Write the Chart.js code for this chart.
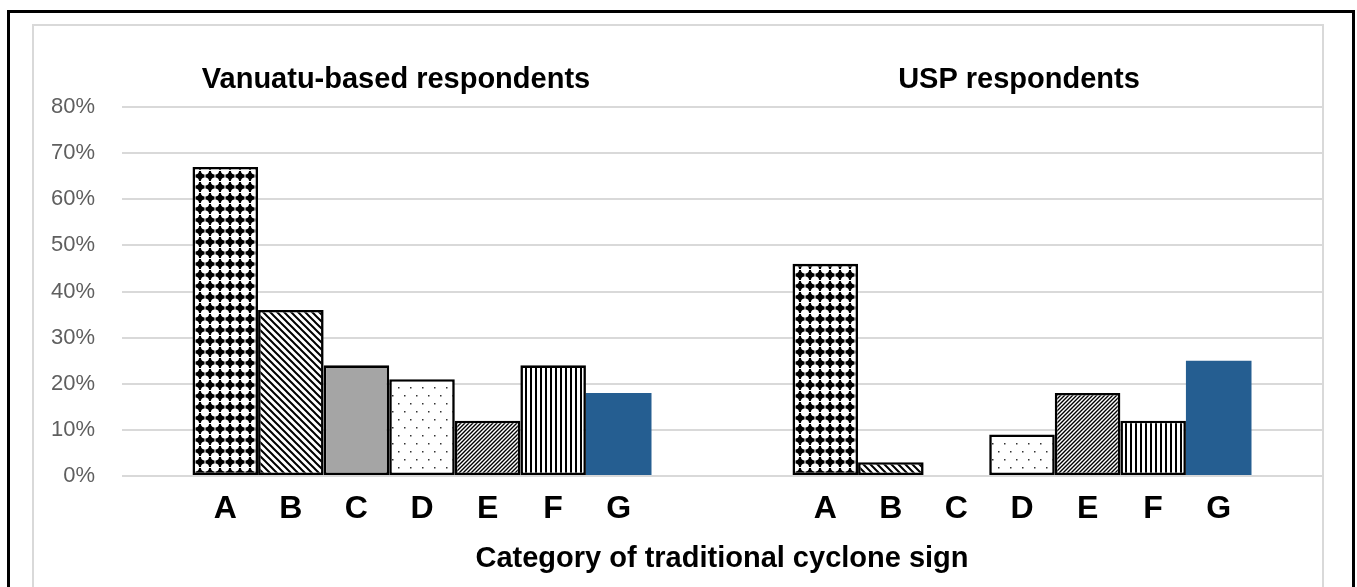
<!DOCTYPE html>
<html>
<head>
<meta charset="utf-8">
<script src="https://cdn.jsdelivr.net/npm/chart.js@4"></script>
<style>
  html, body { margin: 0; padding: 0; background: #fff; }
  #wrap { position: relative; width: 1357px; height: 587px; }
</style>
</head>
<body>
<div id="wrap"><canvas id="chart"></canvas></div>
<script>
const groups = ['Vanuatu-based respondents', 'USP respondents'];
const signs = ['A', 'B', 'C', 'D', 'E', 'F', 'G'];
// percent of respondents, one array per sign: [Vanuatu, USP]
const signA = [67, 46];
const signB = [36, 3];
const signC = [24, 0];
const signD = [21, 9];
const signE = [12, 18];
const signF = [24, 12];
const signG = [18, 25];
const yTicks = [0, 10, 20, 30, 40, 50, 60, 70, 80];

const FONT = "'Liberation Sans', Arial, sans-serif";

function makePattern(w, h, draw) {
  const c = document.createElement('canvas');
  c.width = w; c.height = h;
  const g = c.getContext('2d');
  g.fillStyle = '#fff';
  g.fillRect(0, 0, w, h);
  draw(g, w, h);
  return g.createPattern(c, 'repeat');
}

// A: black diamonds between white round holes
const patA = makePattern(10, 11, (g, w, h) => {
  g.fillStyle = '#000';
  g.fillRect(0, 0, w, h);
  g.fillStyle = '#fff';
  g.beginPath();
  g.arc(w / 2, h / 2, 4.1, 0, Math.PI * 2);
  g.fill();
  g.fillRect(w / 2 - 0.5, 0, 1, h);
  g.fillRect(0, h / 2 - 0.5, w, 1);
});
// B: wide backward diagonal
const patB = makePattern(7, 7, (g, w, h) => {
  g.strokeStyle = '#000';
  g.lineWidth = 2;
  g.beginPath();
  g.moveTo(-1, -1); g.lineTo(w + 1, h + 1);
  g.moveTo(w - 1, -1); g.lineTo(w + 1, 1);
  g.moveTo(-1, h - 1); g.lineTo(1, h + 1);
  g.stroke();
});
// D: sparse dots
const patD = makePattern(12, 16, (g) => {
  g.fillStyle = '#333';
  g.fillRect(2, 3, 1.5, 1.5);
  g.fillRect(8, 11, 1.5, 1.5);
});
// E: dense forward diagonal
const patE = makePattern(4, 4, (g, w, h) => {
  g.strokeStyle = '#000';
  g.lineWidth = 1.4;
  g.beginPath();
  g.moveTo(-1, h + 1); g.lineTo(w + 1, -1);
  g.moveTo(-1, 1); g.lineTo(1, -1);
  g.moveTo(w - 1, h + 1); g.lineTo(w + 1, h - 1);
  g.stroke();
});
// F: vertical stripes
const patF = makePattern(5, 1, (g) => {
  g.fillStyle = '#000';
  g.fillRect(0, 0, 2, 1);
});

const values = [signA, signB, signC, signD, signE, signF, signG];
const fills = [patA, patB, '#a5a5a5', patD, patE, patF, '#255e91'];
const borders = ['#000', '#000', '#000', '#000', '#000', '#000', '#255e91'];

const datasets = signs.map((s, i) => ({
  label: s,
  data: values[i],
  backgroundColor: fills[i],
  borderColor: borders[i],
  borderWidth: i === 6 ? 0 : 2.6,
  borderSkipped: false,
  barPercentage: 1,
  categoryPercentage: 0.765,
}));

const frame = {
  id: 'frame',
  beforeDraw(chart) {
    const ctx = chart.ctx;
    ctx.save();
    ctx.fillStyle = '#fff';
    ctx.fillRect(0, 0, chart.width, chart.height);
    ctx.strokeStyle = '#000';
    ctx.lineWidth = 3;
    ctx.beginPath();
    ctx.moveTo(8.5, chart.height + 5);
    ctx.lineTo(8.5, 11.5);
    ctx.lineTo(1353.5, 11.5);
    ctx.lineTo(1353.5, chart.height + 5);
    ctx.stroke();
    ctx.strokeStyle = '#d9d9d9';
    ctx.lineWidth = 2;
    ctx.beginPath();
    ctx.moveTo(33, chart.height + 5);
    ctx.lineTo(33, 25);
    ctx.lineTo(1323, 25);
    ctx.lineTo(1323, chart.height + 5);
    ctx.stroke();
    ctx.restore();
  }
};

const labelsPlugin = {
  id: 'labelsPlugin',
  afterDraw(chart) {
    const ctx = chart.ctx;
    const area = chart.chartArea;
    const xs = chart.scales.x;
    ctx.save();
    ctx.fillStyle = '#000';
    ctx.textAlign = 'center';
    ctx.textBaseline = 'alphabetic';
    // group titles
    ctx.font = 'bold 29px ' + FONT;
    groups.forEach((g, i) => {
      ctx.fillText(g, xs.getPixelForValue(i) - (i === 0 ? 26 : 3), area.top - 19);
    });
    // sign letters under each bar
    ctx.font = 'bold 32px ' + FONT;
    chart.data.datasets.forEach((ds, di) => {
      chart.getDatasetMeta(di).data.forEach((bar) => {
        ctx.fillText(ds.label, bar.x, area.bottom + 42);
      });
    });
    ctx.restore();
  }
};

new Chart(document.getElementById('chart'), {
  type: 'bar',
  data: { labels: groups, datasets },
  options: {
    responsive: true,
    maintainAspectRatio: false,
    animation: false,
    layout: { padding: { left: 0, right: 35, top: 107, bottom: 0 } },
    plugins: {
      legend: { display: false },
      tooltip: { enabled: false },
    },
    scales: {
      x: {
        grid: { display: false },
        border: { display: false },
        ticks: { display: false },
        title: {
          display: true,
          text: 'Category of traditional cyclone sign',
          color: '#000',
          font: { family: FONT, size: 29, weight: 'bold' },
          padding: { top: 0, bottom: 11 },
        },
        afterFit(scale) { scale.height = 111; },
      },
      y: {
        min: 0,
        max: 80,
        afterBuildTicks(scale) { scale.ticks = yTicks.map(v => ({ value: v })); },
        grid: { color: '#d9d9d9', lineWidth: 2, drawTicks: false },
        border: { display: false },
        ticks: {
          padding: 27,
          color: '#5f5f5f',
          font: { family: FONT, size: 22 },
          callback: v => v + '%',
        },
        afterFit(scale) { scale.width = 122; },
      },
    },
  },
  plugins: [frame, labelsPlugin],
});
</script>
</body>
</html>
